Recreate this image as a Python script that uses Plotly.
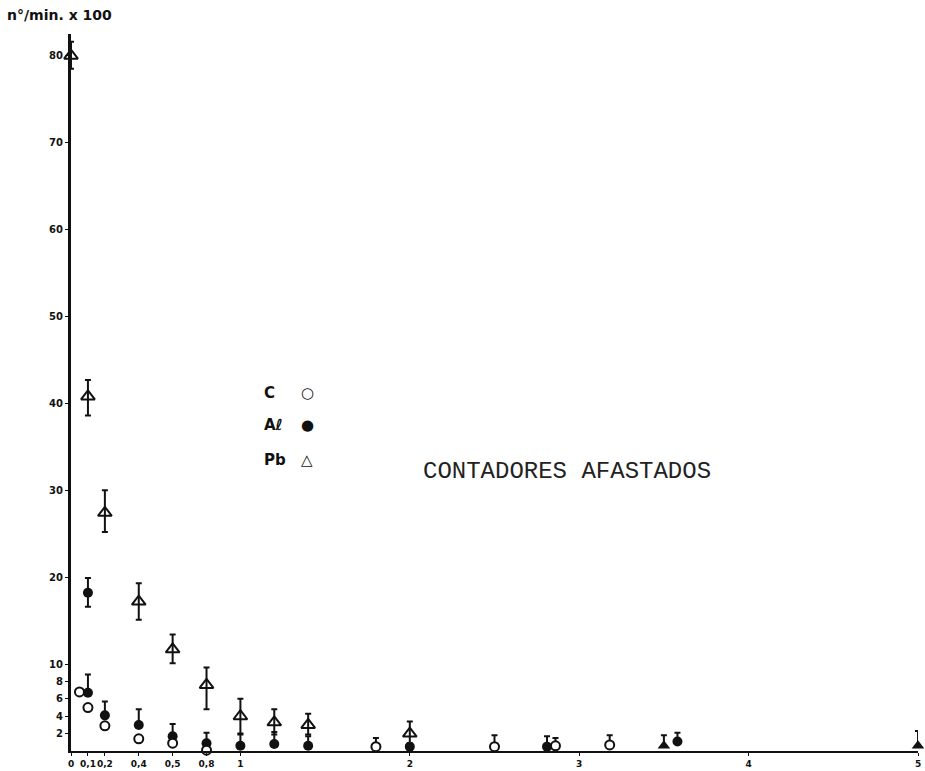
import plotly.graph_objects as go

# ---- data ----
c_x = [0.05, 0.1, 0.2, 0.4, 0.6, 0.8, 1.8, 2.5, 2.86, 3.18]
c_y = [6.8, 5.0, 2.9, 1.4, 0.9, 0.1, 0.5, 0.5, 0.6, 0.7]
c_up = [0, 0, 0, 0, 0, 0, 1.0, 1.3, 0.9, 1.1]
c_dn = [0, 0, 0, 0, 0, 0, 0, 0, 0, 0]

al_x = [0.1, 0.1, 0.2, 0.4, 0.6, 0.8, 1.0, 1.2, 1.4, 2.0, 2.81, 3.58]
al_y = [18.2, 6.7, 4.1, 3.0, 1.7, 0.9, 0.6, 0.8, 0.6, 0.5, 0.5, 1.1]
al_up = [1.7, 2.1, 1.6, 1.8, 1.4, 1.2, 1.3, 1.4, 1.1, 0.4, 1.2, 1.0]
al_dn = [1.6, 0, 0, 0, 0, 0, 0, 0, 0, 0, 0, 0]

pb_x = [0, 0.1, 0.2, 0.4, 0.6, 0.8, 1.0, 1.2, 1.4, 2.0]
pb_y = [80, 40.8, 27.4, 17.2, 11.7, 7.6, 4.0, 3.3, 3.0, 2.0]
pb_up = [1.6, 1.9, 2.6, 2.1, 1.7, 2.0, 2.0, 1.5, 1.3, 1.4]
pb_dn = [1.5, 2.2, 2.2, 2.1, 1.6, 2.8, 2.0, 1.4, 1.1, 1.4]

# Pb points overlapping Al dots (drawn solid in the reference)
pbo_x = [3.5, 5.0]
pbo_y = [0.6, 0.6]
pbo_up = [1.2, 1.7]

x_tickvals = [0, 0.1, 0.2, 0.4, 0.6, 0.8, 1, 2, 3, 4, 5]
x_ticktext = ["0", "0,1", "0,2", "0,4", "0,5", "0,8", "1", "2", "3", "4", "5"]
y_tickvals = [2, 4, 6, 8, 10, 20, 30, 40, 50, 60, 70, 80]
y_ticktext = ["2", "4", "6", "8", "10", "20", "30", "40", "50", "60", "70", "80"]

legend_labels = ["C", "Aℓ", "Pb"]
legend_glyphs = ["○", "●", "△"]

INK = "#111111"


def err(up, dn):
    return dict(type="data", symmetric=False, array=up, arrayminus=dn,
                color=INK, thickness=2, width=3)


fig = go.Figure()
fig.add_trace(go.Scatter(x=pb_x, y=pb_y, mode="markers", name="Pb",
                         error_y=err(pb_up, pb_dn), cliponaxis=False,
                         marker=dict(symbol="triangle-up-open", size=12,
                                     color=INK, line=dict(width=2, color=INK))))
fig.add_trace(go.Scatter(x=pbo_x, y=pbo_y, mode="markers", showlegend=False,
                         error_y=err(pbo_up, [0] * len(pbo_up)), cliponaxis=False,
                         marker=dict(symbol="triangle-up", size=11, color=INK)))
fig.add_trace(go.Scatter(x=al_x, y=al_y, mode="markers", name="Al",
                         error_y=err(al_up, al_dn), cliponaxis=False,
                         marker=dict(symbol="circle", size=10, color=INK)))
fig.add_trace(go.Scatter(x=c_x, y=c_y, mode="markers", name="C",
                         error_y=err(c_up, c_dn), cliponaxis=False,
                         marker=dict(symbol="circle", size=9, color="white",
                                     line=dict(width=2, color=INK))))

L, R, T, B = 71, 7, 34, 20
W, H = 925, 771
pw, ph = W - L - R, H - T - B


def px(xp):
    return (xp - L) / pw


def py(yp):
    return (H - B - yp) / ph


annotations = [
    dict(text="<b>n°/min. x 100</b>", x=px(5), y=py(15), xanchor="left",
         yanchor="middle", font=dict(size=14, color=INK, family="DejaVu Sans")),
    dict(text="CONTADORES AFASTADOS", x=px(567), y=py(472), xanchor="center",
         yanchor="middle", font=dict(size=24, color="#222222", family="Liberation Mono")),
]
leg_y = [393, 425, 460]
for lab, gl, yy in zip(legend_labels, legend_glyphs, leg_y):
    annotations.append(dict(text="<b>" + lab + "</b>", x=px(262), y=py(yy), xanchor="left",
                            yanchor="middle",
                            font=dict(size=15, color=INK, family="DejaVu Sans")))
    annotations.append(dict(text="<b>" + gl + "</b>", x=px(307), y=py(yy), xanchor="center",
                            yanchor="middle",
                            font=dict(size=15, color=INK, family="DejaVu Sans")))
for a in annotations:
    a.update(xref="paper", yref="paper", showarrow=False)

fig.update_layout(
    width=W, height=H,
    margin=dict(l=L, r=R, t=T, b=B, autoexpand=False),
    paper_bgcolor="white", plot_bgcolor="white",
    showlegend=False,
    annotations=annotations,
    xaxis=dict(range=[0, 5.0], tickvals=x_tickvals, ticktext=x_ticktext,
               automargin=False, tickangle=0,
               showgrid=False, zeroline=False, showline=True, linecolor=INK,
               linewidth=2, ticks="outside", ticklen=3, tickcolor=INK, tickwidth=1,
               tickfont=dict(size=9, color=INK, family="DejaVu Sans", weight="bold")),
    yaxis=dict(range=[0, 82.5], tickvals=y_tickvals, ticktext=y_ticktext,
               automargin=False,
               showgrid=False, zeroline=False, showline=True, linecolor=INK,
               linewidth=3, ticks="outside", ticklen=3, tickcolor=INK, tickwidth=1,
               tickfont=dict(size=10, color=INK, family="DejaVu Sans", weight="bold")),
)

fig.write_html("out.html", config={"displayModeBar": False},
               post_script="document.body.style.margin='0';"
                           "document.body.style.overflow='hidden';")
